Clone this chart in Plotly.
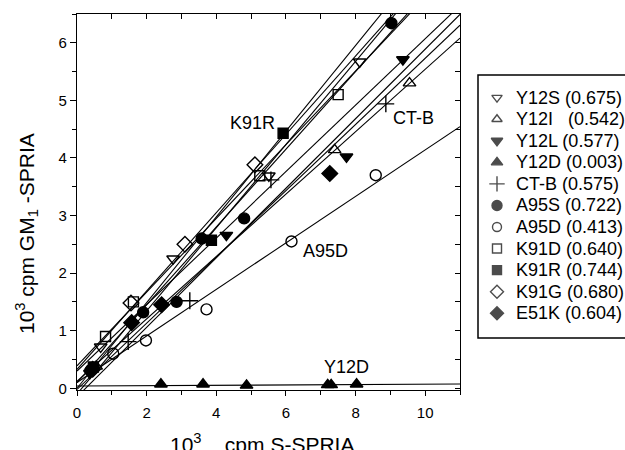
import plotly.graph_objects as go

# ---------------- data ----------------
series_names = ["Y12S", "Y12I", "Y12L", "Y12D", "CT-B", "A95S", "A95D", "K91D", "K91R", "K91G", "E51K"]
series_values = ["(0.675)", "(0.542)", "(0.577)", "(0.003)", "(0.575)", "(0.722)", "(0.413)", "(0.640)", "(0.744)", "(0.680)", "(0.604)"]

y12s_x = [0.68, 2.76, 5.51, 8.12]
y12s_y = [0.72, 2.25, 3.69, 5.67]
y12i_x = [0.55, 7.40, 9.55]
y12i_y = [0.38, 4.14, 5.30]
y12l_x = [0.37, 4.29, 7.74, 9.36]
y12l_y = [0.26, 2.66, 4.02, 5.71]
y12d_x = [2.41, 3.62, 4.87, 7.20, 7.30, 8.03]
y12d_y = [0.07, 0.07, 0.05, 0.06, 0.06, 0.07]
ctb_x = [1.47, 3.24, 5.57, 8.87]
ctb_y = [0.81, 1.52, 3.62, 4.94]
a95s_x = [0.40, 1.90, 2.86, 3.58, 4.80, 9.03]
a95s_y = [0.32, 1.32, 1.50, 2.60, 2.95, 6.34]
a95d_x = [1.04, 1.98, 3.72, 6.16, 8.58]
a95d_y = [0.60, 0.83, 1.37, 2.55, 3.70]
k91d_x = [0.82, 1.62, 5.25, 7.50]
k91d_y = [0.90, 1.50, 3.69, 5.10]
k91r_x = [0.47, 3.86, 5.92]
k91r_y = [0.37, 2.57, 4.43]
k91g_x = [1.55, 3.10, 5.11]
k91g_y = [1.48, 2.50, 3.88]
e51k_x = [0.45, 1.57, 2.43, 7.26]
e51k_y = [0.33, 1.14, 1.45, 3.73]

# regression lines (slope, intercept)
fit_slope = [0.675, 0.542, 0.577, 0.003, 0.575, 0.722, 0.404, 0.640, 0.744, 0.680, 0.604]
fit_intercept = [0.10, 0.12, 0.30, 0.04, -0.02, -0.10, 0.10, 0.39, 0.00, 0.33, -0.15]

x_ticks = [0, 2, 4, 6, 8, 10]
y_ticks = [0, 1, 2, 3, 4, 5, 6]

labels = [("K91R", 5.75, 4.60, "right"), ("CT-B", 9.02, 4.70, "left"),
          ("A95D", 6.42, 2.38, "left"), ("Y12D", 7.05, 0.37, "left")]

# ---------------- style ----------------
xs = [y12s_x, y12i_x, y12l_x, y12d_x, ctb_x, a95s_x, a95d_x, k91d_x, k91r_x, k91g_x, e51k_x]
ys = [y12s_y, y12i_y, y12l_y, y12d_y, ctb_y, a95s_y, a95d_y, k91d_y, k91r_y, k91g_y, e51k_y]
symbols = ["triangle-down-open", "triangle-up-open", "triangle-down", "triangle-up",
           "cross-thin-open", "circle", "circle-open", "square-open", "square",
           "diamond-open", "diamond"]
sizes = [11, 11, 11, 11, 12, 11, 11, 10, 10, 12, 12]

FONT = "Liberation Sans, Arial, Helvetica, sans-serif"
X_MIN, X_MAX = 0, 11
Y_MIN, Y_MAX = -0.03, 6.5

fig = go.Figure()

# fit lines
for b, a in zip(fit_slope, fit_intercept):
    fig.add_trace(go.Scatter(x=[X_MIN, X_MAX], y=[a + b * X_MIN, a + b * X_MAX], mode="lines",
                             line=dict(color="black", width=1.1), showlegend=False, hoverinfo="skip"))

# data points
for name, x, y, s, sz in zip(series_names, xs, ys, symbols, sizes):
    fig.add_trace(go.Scatter(x=x, y=y, mode="markers", name=name, showlegend=False,
                             marker=dict(symbol=s, size=sz, color="black",
                                         line=dict(color="black", width=1.4)),
                             cliponaxis=False))

# dummy trace for mirrored (top/right) axes
fig.add_trace(go.Scatter(x=[None], y=[None], xaxis="x2", yaxis="y2", showlegend=False, hoverinfo="skip"))

# manual legend markers
n = len(series_names)
fig.add_trace(go.Scatter(x=[19] * n, y=list(range(n)), xaxis="x3", yaxis="y3", mode="markers",
                         showlegend=False, hoverinfo="skip",
                         marker=dict(symbol=symbols, size=[9, 9, 10, 10, 11, 10, 9, 9, 9, 10, 10],
                                     color="black", line=dict(color="black", width=1.4))))

annotations = []
for i, (nm, val) in enumerate(zip(series_names, series_values)):
    sep = "\u00a0\u00a0\u00a0" if nm == "Y12I" else " "
    annotations.append(dict(xref="x3", yref="y3", x=36, y=i, text=nm + sep + val, showarrow=False,
                            xanchor="left", yanchor="middle", font=dict(family=FONT, size=18, color="black")))
for t, x, y, anc in labels:
    annotations.append(dict(xref="x", yref="y", x=x, y=y, text=t, showarrow=False, xanchor=anc,
                            yanchor="middle", font=dict(family=FONT, size=18, color="black")))

# axis titles
annotations.append(dict(xref="paper", yref="paper", x=(262 - 77) / 548, y=(390 - 428) / 376,
                        text="10<sup>3</sup>\u00a0\u00a0\u00a0 cpm S-SPRIA", showarrow=False,
                        xanchor="center", yanchor="top", font=dict(family=FONT, size=21, color="black")))
annotations.append(dict(xref="paper", yref="paper", x=(26 - 77) / 548, y=(390 - 234) / 376,
                        text="10<sup>3</sup> cpm GM<sub>1</sub> -SPRIA", showarrow=False, textangle=-90,
                        xanchor="center", yanchor="middle", font=dict(family=FONT, size=21, color="black")))

shapes = [dict(type="rect", xref="paper", yref="paper", x0=(478 - 77) / 548, x1=1.05,
               y0=(390 - 338) / 376, y1=(390 - 75) / 376, line=dict(color="black", width=1.5))]

axis_common = dict(showgrid=False, zeroline=False, showline=True, linecolor="black", linewidth=1.3,
                   tickcolor="black", tickwidth=1, tickfont=dict(family=FONT, size=15, color="black"))

fig.update_layout(
    width=625, height=450, plot_bgcolor="white", paper_bgcolor="white",
    margin=dict(l=77, r=0, t=14, b=60), showlegend=False,
    xaxis=dict(domain=[0, 383 / 548], range=[X_MIN, X_MAX], tickvals=x_ticks, ticks="outside", ticklen=5,
               minor=dict(dtick=1, ticks="outside", ticklen=4, tickcolor="black"), ticklabelstandoff=4,
               anchor="y", **axis_common),
    yaxis=dict(domain=[0, 1], range=[Y_MIN, Y_MAX], tickvals=y_ticks, ticks="outside", ticklen=6,
               minor=dict(dtick=0.5, ticks="outside", ticklen=4, tickcolor="black"),
               anchor="x", **axis_common),
    xaxis2=dict(overlaying="x", side="top", anchor="y", range=[X_MIN, X_MAX], dtick=1, ticks="inside",
                ticklen=5, showticklabels=False, **axis_common),
    yaxis2=dict(overlaying="y", side="right", anchor="x", range=[Y_MIN, Y_MAX], dtick=0.5, ticks="inside",
                ticklen=5, showticklabels=False, **axis_common),
    xaxis3=dict(domain=[(478 - 77) / 548, 1], range=[0, 147], visible=False, anchor="y3"),
    yaxis3=dict(domain=[0, 1], range=[13.56, -3.88], visible=False, anchor="x3"),
    annotations=annotations, shapes=shapes,
)

fig.write_html("out.html")
